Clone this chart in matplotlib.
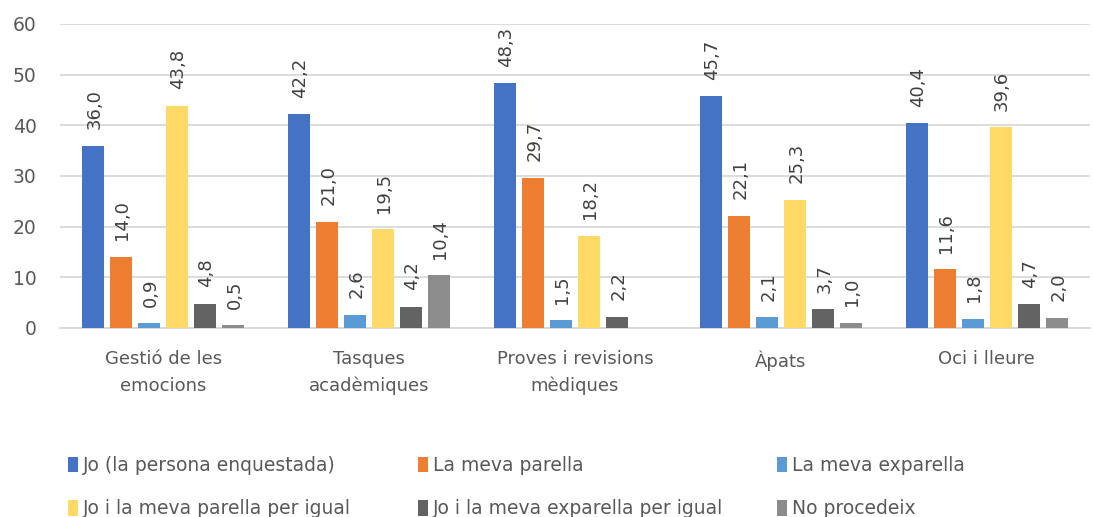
import numpy as np
import matplotlib
matplotlib.use("Agg")
import matplotlib.pyplot as plt

categories = ["Gestió de les\nemocions", "Tasques\nacadèmiques",
              "Proves i revisions\nmèdiques", "Àpats", "Oci i lleure"]
series = ["Jo (la persona enquestada)", "La meva parella", "La meva exparella",
          "Jo i la meva parella per igual", "Jo i la meva exparella per igual",
          "No procedeix"]
jo = [36.0, 42.2, 48.3, 45.7, 40.4]
parella = [14.0, 21.0, 29.7, 22.1, 11.6]
exparella = [0.9, 2.6, 1.5, 2.1, 1.8]
jo_parella = [43.8, 19.5, 18.2, 25.3, 39.6]
jo_exparella = [4.8, 4.2, 2.2, 3.7, 4.7]
no_procedeix = [0.5, 10.4, np.nan, 1.0, 2.0]

values = [jo, parella, exparella, jo_parella, jo_exparella, no_procedeix]
colors = ["#4472C4", "#ED7D31", "#5B9BD5", "#FFD966", "#636363", "#8C8C8C"]

plt.rcParams.update({"font.family": "DejaVu Sans", "text.color": "#595959"})

fig = plt.figure(figsize=(10.93, 5.17), dpi=100)
ax = fig.add_axes([0.055, 0.3656, 0.942, 0.588])

x = np.arange(len(categories))
step = 0.136
width = 0.107
handles = []
for i, (vals, col) in enumerate(zip(values, colors)):
    pos = x + (i - 2.5) * step
    b = ax.bar(pos, vals, width=width, color=col, zorder=3, label=series[i])
    handles.append(b)
    for px, v in zip(pos, vals):
        if np.isnan(v):
            continue
        ax.annotate(f"{v:.1f}".replace(".", ","), (px, v),
                    textcoords="offset points", xytext=(1, 12),
                    rotation=90, ha="center", va="bottom",
                    fontsize=13, color="#404040")

ax.set_xlim(-0.5, len(categories) - 0.5)
ax.set_ylim(0, 60)
ax.set_yticks(range(0, 61, 10))
ax.set_xticks(x)
ax.set_xticklabels(categories, fontsize=13, color="#595959", linespacing=1.6)
ax.tick_params(axis="y", labelsize=13.5, labelcolor="#595959", length=0, pad=17)
ax.tick_params(axis="x", length=0, pad=16)
ax.grid(axis="y", color="#D9D9D9", lw=1.3, zorder=0)
for s in ["top", "right", "left"]:
    ax.spines[s].set_visible(False)
ax.spines["bottom"].set_color("#D9D9D9")
ax.spines["bottom"].set_linewidth(1.3)

# legend: three columns of equal width like the original
col_x = [0.062, 0.382, 0.711]
for c in range(3):
    hs = [handles[c], handles[c + 3]]
    labs = [series[c], series[c + 3]]
    fig.legend(hs, labs, loc="upper left", bbox_to_anchor=(col_x[c], 0.118),
               frameon=False, fontsize=13.5, handlelength=0.55, handleheight=0.9,
               handletextpad=0.25, labelspacing=1.3, borderaxespad=0,
               borderpad=0, labelcolor="#595959")

fig.savefig("out.png", dpi=100, facecolor="white")
